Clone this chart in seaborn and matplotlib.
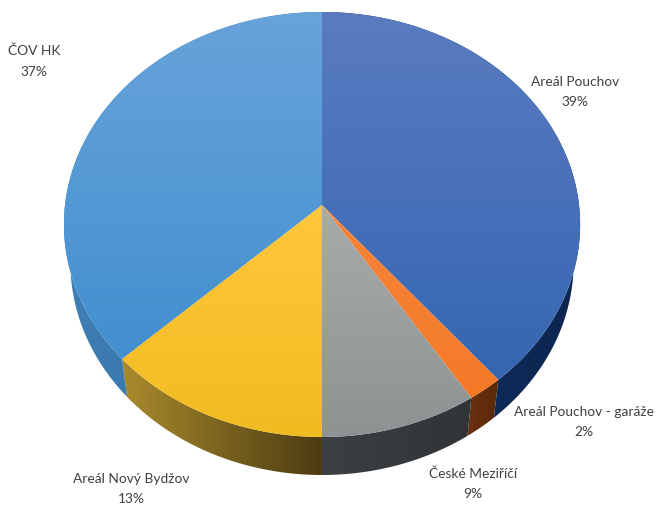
import numpy as np
import matplotlib
matplotlib.use("Agg")
import matplotlib.pyplot as plt
from matplotlib.patches import Polygon
import seaborn as sns

labels = ["Areál Pouchov", "Areál Pouchov - garáže", "České Meziříčí", "Areál Nový Bydžov", "ČOV HK"]
values = [39, 2, 9, 13, 37]
top_colors = [("#5a7bc0", "#3566b2"), ("#f6843a", "#f47a28"), ("#a8abab", "#8d9292"),
              ("#ffc73c", "#f0bc20"), ("#68a3da", "#428fcf")]
side_colors = [("#123063", "#0c2650"), ("#6a3210", "#5a2808"), ("#3c4044", "#303436"),
               ("#a98a2c", "#4c3c12"), ("#3f7fb4", "#2f6a9c")]
label_pos = [(575, 92), (584, 422), (473, 484), (131, 489), (34, 61)]

W, H = 659, 505
APEX_X, APEX_Y = 322, 205
A, B, K = 257.0, 210.7, 0.0918
DEPTH, SHRINK = 38.0, 0.975

sns.set_theme(style="white")
plt.rcParams["font.family"] = ["Lato", "DejaVu Sans"]

fig = plt.figure(figsize=(W / 100, H / 100), dpi=100, facecolor="white")
ax = fig.add_axes([0, 0, 1, 1])
ax.set_xlim(0, W)
ax.set_ylim(H, 0)
ax.axis("off")


def project(theta):
    """Clockwise angle from 12 o'clock on the disc, to picture position."""
    X, Y = np.sin(theta), -np.cos(theta)
    d = 1 - K * Y
    return A * X / d, B * Y / d


def gradient(poly, pair, vertical, zorder):
    ramp = np.array(sns.blend_palette(list(pair), 128))
    img = ramp[:, None, :] if vertical else ramp[None, :, :]
    x0, y0 = poly.min(axis=0)
    x1, y1 = poly.max(axis=0)
    im = ax.imshow(img, extent=(x0, x1, y1, y0), aspect="auto", zorder=zorder,
                   interpolation="bilinear")
    patch = Polygon(poly, closed=True, transform=ax.transData, fc="none", ec="none")
    ax.add_patch(patch)
    im.set_clip_path(patch)


edges = np.cumsum([0] + values) / sum(values) * 2 * np.pi

# sides, then the top faces over them
for i in range(len(values)):
    t = np.linspace(edges[i], edges[i + 1], 160)
    px, py = project(t)
    upper = np.column_stack([APEX_X + px, APEX_Y + py])
    lower = np.column_stack([APEX_X + px * SHRINK, APEX_Y + py + DEPTH])
    gradient(np.vstack([upper, lower[::-1]]), side_colors[i], False, 2)

for i in range(len(values)):
    t = np.linspace(edges[i], edges[i + 1], 160)
    px, py = project(t)
    face = np.vstack([[APEX_X, APEX_Y], np.column_stack([APEX_X + px, APEX_Y + py])])
    gradient(face, top_colors[i], True, 3)

for name, v, (x, y) in zip(labels, values, label_pos):
    ax.text(x, y, f"{name}\n{v}%", ha="center", va="center", fontsize=9.9,
            color="#404040", linespacing=1.85, zorder=5)

ax.set_xlim(0, W)
ax.set_ylim(H, 0)
fig.savefig("out.png", dpi=100, facecolor="white")
